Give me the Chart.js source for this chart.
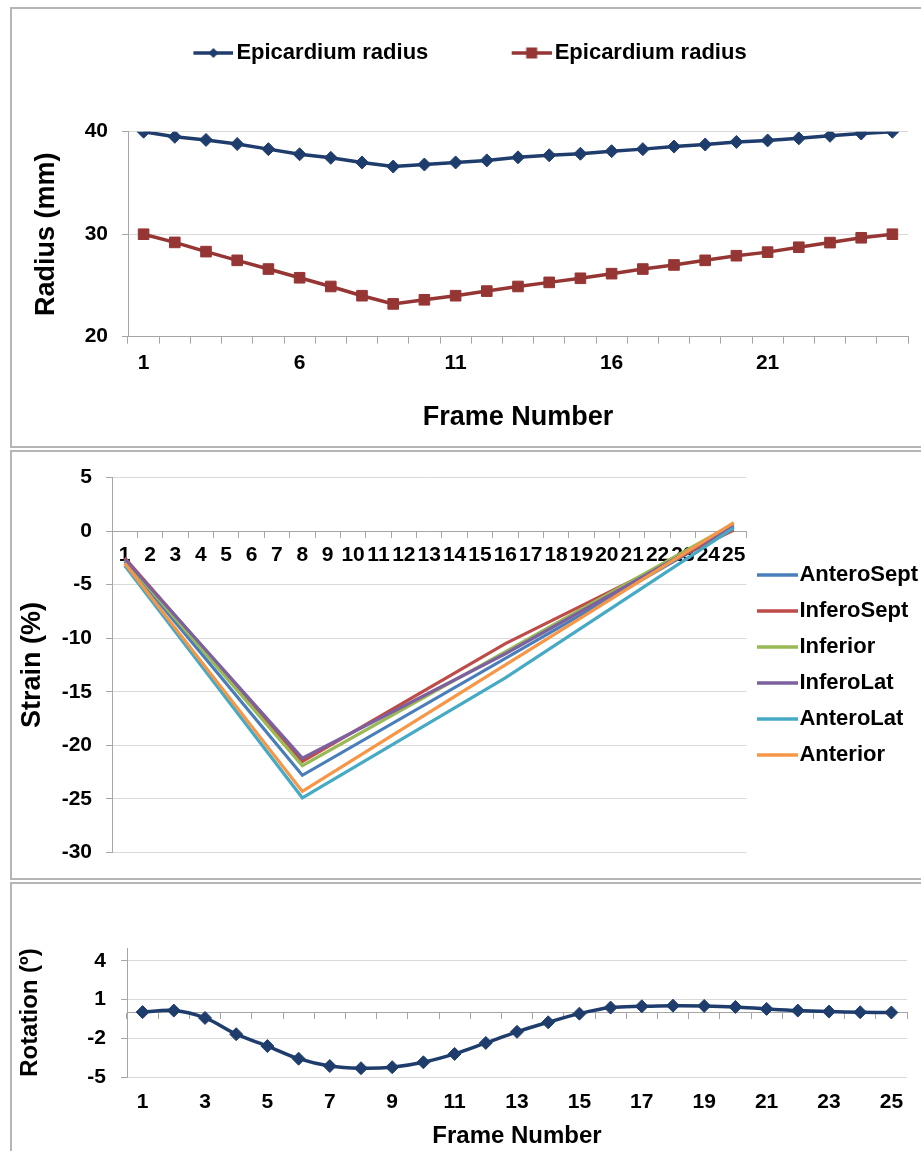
<!DOCTYPE html>
<html>
<head>
<meta charset="utf-8">
<script src="https://cdn.jsdelivr.net/npm/chart.js@4"></script>
<style>
  html, body { margin: 0; padding: 0; background: #fff; overflow: hidden; width: 921px; height: 1151px; }
  .box { position: absolute; border: 2px solid #b5b5b5; box-sizing: border-box; }
  canvas { position: absolute; left: 0; }
</style>
</head>
<body>
<div class="box" style="left:10px;top:7px;width:940px;height:441px"></div>
<div class="box" style="left:10px;top:450px;width:940px;height:430px"></div>
<div class="box" style="left:10px;top:882px;width:940px;height:300px"></div>
<canvas id="radiusChart" width="932" height="446" style="top:0"></canvas>
<canvas id="strainChart" width="928" height="428" style="top:451px"></canvas>
<canvas id="rotationChart" width="932" height="268" style="top:883px"></canvas>
<script>
const frames = ['1', '2', '3', '4', '5', '6', '7', '8', '9', '10', '11', '12', '13',
  '14', '15', '16', '17', '18', '19', '20', '21', '22', '23', '24', '25'];

// top panel: radius
const radiusLegend = ['Epicardium radius', 'Epicardium radius'];
const radiusTickLabels = ['1', '6', '11', '16', '21'];
const radiusYTicks = [20, 30, 40];
const radiusOuter = [40.0, 39.5, 39.2, 38.8, 38.3, 37.8, 37.45, 37.0, 36.6, 36.8, 37.0, 37.2, 37.5,
  37.7, 37.85, 38.1, 38.3, 38.55, 38.75, 39.0, 39.15, 39.35, 39.6, 39.82, 40.0];
const radiusInner = [30.0, 29.2, 28.3, 27.45, 26.6, 25.75, 24.9, 24.0, 23.2, 23.6, 24.0, 24.45, 24.9,
  25.3, 25.7, 26.15, 26.6, 27.0, 27.45, 27.9, 28.25, 28.73, 29.18, 29.65, 30.0];

// middle panel: strain (blank frames are joined by the line)
const strainSegments = ['AnteroSept', 'InferoSept', 'Inferior', 'InferoLat', 'AnteroLat', 'Anterior'];
const strainAnteroSept = [-2.8, null, null, null, null, null, null, -22.8, null, null, null, null, null,
  null, null, null, null, null, null, null, null, null, null, null, 0.4];
const strainInferoSept = [-2.5, null, null, null, null, null, null, -21.5, null, null, null, null, null,
  null, null, -10.5, null, null, null, null, null, null, null, null, 0.1];
const strainInferior = [-2.7, null, null, null, null, null, null, -21.9, null, null, null, null, null,
  null, null, null, null, null, null, null, null, null, null, null, 0.7];
const strainInferoLat = [-2.6, null, null, null, null, null, null, -21.2, null, null, null, null, null,
  null, null, -11.45, null, null, null, null, null, null, null, null, 0.5];
const strainAnteroLat = [-3.2, null, null, null, null, null, null, -24.9, null, null, null, null, null,
  null, null, -13.7, null, null, null, null, null, null, null, null, 0.3];
const strainAnterior = [-3.0, null, null, null, null, null, null, -24.3, null, null, null, null, null,
  null, null, null, null, null, null, null, null, null, null, null, 0.8];

// bottom panel: rotation
const rotationTickLabels = ['1', '3', '5', '7', '9', '11', '13', '15', '17', '19', '21', '23', '25'];
const rotationYTicks = [-5, -2, 1, 4];
const rotationValues = [0.03, 0.15, -0.42, -1.68, -2.6, -3.58, -4.15, -4.32, -4.24, -3.86, -3.21, -2.36, -1.5,
  -0.76, -0.09, 0.38, 0.48, 0.53, 0.51, 0.43, 0.28, 0.15, 0.07, 0.02, 0.0];

const navy = '#1f3d6c';
const darkRed = '#963634';
const strainColors = ['#4a7ebb', '#be4b48', '#98b954', '#7d60a0', '#46aac5', '#f79646'];
const axisGray = '#a6a6a6';
const gridGray = '#d9d9d9';

Chart.defaults.font.family = "'Liberation Sans', Arial, sans-serif";
Chart.defaults.font.weight = 'bold';
Chart.defaults.color = '#000';

const defaultLabels = Chart.defaults.plugins.legend.labels.generateLabels;

// legend swatch: a line (and marker) drawn relative to the legend box start
function legendIcon(color, marker, box, from, to) {
  const half = Math.max(box / 2 - from, to - box / 2);
  const c = document.createElement('canvas');
  c.width = Math.ceil(half * 2);
  c.height = 16;
  const g = c.getContext('2d');
  const x0 = half - box / 2;
  g.strokeStyle = color;
  g.fillStyle = color;
  g.lineWidth = 3.5;
  g.beginPath();
  g.moveTo(x0 + from, 8);
  g.lineTo(x0 + to, 8);
  g.stroke();
  const mx = x0 + (from + to) / 2;
  if (marker === 'diamond') {
    g.beginPath();
    g.moveTo(mx, 3); g.lineTo(mx + 5, 8); g.lineTo(mx, 13); g.lineTo(mx - 5, 8);
    g.closePath();
    g.fill();
  } else if (marker === 'square') {
    g.fillRect(mx - 5.5, 2.5, 11, 11);
  }
  return c;
}

const yTickValues = list => scale => { scale.ticks = list.map(v => ({ value: v })); };

// ---- Radius chart
const radiusIcons = [legendIcon(navy, 'diamond', 32, 0, 40), legendIcon(darkRed, 'square', 32, 0, 40)];
new Chart(document.getElementById('radiusChart'), {
  type: 'line',
  data: {
    labels: frames,
    datasets: [
      { label: radiusLegend[0], data: radiusOuter, borderColor: navy, backgroundColor: navy, xAxisID: 'x',
        borderWidth: 3.5, pointStyle: 'rectRot', pointRadius: 6.5, pointBorderWidth: 1 },
      { label: radiusLegend[1], data: radiusInner, borderColor: darkRed, backgroundColor: darkRed, xAxisID: 'x',
        borderWidth: 3.5, pointStyle: 'rect', pointRadius: 7.5, pointBorderWidth: 1 }
    ]
  },
  options: {
    responsive: false,
    animation: false,
    layout: { padding: { left: 32, right: 24, top: 32, bottom: 0 } },
    plugins: {
      tooltip: { enabled: false },
      legend: {
        position: 'top',
        labels: {
          usePointStyle: true,
          pointStyleWidth: 32,
          padding: 10,
          font: { size: 22, weight: 'bold' },
          generateLabels: chart => defaultLabels(chart).map(item => {
            item.pointStyle = radiusIcons[item.datasetIndex];
            if (item.datasetIndex === 0) item.text = item.text + '            ';
            return item;
          })
        }
      }
    },
    scales: {
      xTop: {
        type: 'category', axis: 'x', position: 'top',
        grid: { display: false, drawTicks: false }, border: { display: false },
        ticks: { display: false },
        afterFit: s => { s.height = 57.7; }
      },
      x: {
        type: 'category', offset: true,
        grid: { drawOnChartArea: false, offset: true, tickLength: 7, tickColor: axisGray },
        border: { color: axisGray },
        ticks: {
          autoSkip: false, maxRotation: 0, minRotation: 0, padding: 6.7, font: { size: 21 },
          callback: function (v) { const l = this.getLabelForValue(v); return radiusTickLabels.includes(l) ? l : ''; }
        },
        title: { display: true, text: 'Frame Number', font: { size: 27, weight: 'bold' }, padding: { top: 0, bottom: 12 } },
        afterFit: s => { s.height = 109.3; }
      },
      y: {
        min: 20, max: 40,
        afterBuildTicks: yTickValues(radiusYTicks),
        grid: { color: gridGray, tickLength: 6, tickColor: axisGray },
        border: { color: axisGray },
        ticks: { padding: 14, font: { size: 21 } },
        title: { display: true, text: 'Radius (mm)', font: { size: 27, weight: 'bold' }, padding: { top: -2, bottom: 0 } },
        afterFit: s => { s.width = 96; }
      }
    }
  }
});

// ---- Strain chart
const strainSeries = [strainAnteroSept, strainInferoSept, strainInferior, strainInferoLat, strainAnteroLat, strainAnterior];
const strainIcons = strainColors.map(c => legendIcon(c, null, 28, -3.5, 37.5));
new Chart(document.getElementById('strainChart'), {
  type: 'line',
  data: {
    labels: frames,
    datasets: strainSeries.map((values, i) => ({
      label: strainSegments[i],
      data: values,
      borderColor: strainColors[i],
      backgroundColor: strainColors[i],
      borderWidth: 3.2,
      pointRadius: 0,
      spanGaps: true,
      order: strainSeries.length - i
    }))
  },
  options: {
    responsive: false,
    animation: false,
    layout: { padding: { left: 0, right: 0, top: 22, bottom: 22 } },
    plugins: {
      tooltip: { enabled: false },
      legend: {
        position: 'right',
        labels: {
          usePointStyle: true,
          pointStyleWidth: 28,
          padding: 14,
          font: { size: 22, weight: 'bold' },
          sort: (a, b) => a.datasetIndex - b.datasetIndex,
          generateLabels: chart => defaultLabels(chart).map(item => {
            item.pointStyle = strainIcons[item.datasetIndex];
            return item;
          })
        }
      }
    },
    scales: {
      x: {
        type: 'category', offset: true, position: { y: 0 },
        grid: { drawOnChartArea: false, offset: true, tickLength: 6, tickColor: axisGray },
        border: { color: axisGray },
        ticks: { autoSkip: false, maxRotation: 0, minRotation: 0, padding: 5.4, font: { size: 21 } }
      },
      y: {
        min: -30, max: 5,
        ticks: { stepSize: 5, padding: 14, font: { size: 21 } },
        grid: { color: gridGray, tickLength: 6, tickColor: axisGray },
        border: { color: axisGray },
        title: { display: true, text: 'Strain (%)', font: { size: 27, weight: 'bold' }, padding: { top: 16, bottom: 0 } },
        afterFit: s => { s.width = 112; }
      }
    }
  }
});

// ---- Rotation chart
new Chart(document.getElementById('rotationChart'), {
  type: 'line',
  data: {
    labels: frames,
    datasets: [{
      label: 'Rotation',
      data: rotationValues,
      borderColor: navy,
      backgroundColor: navy,
      borderWidth: 3.5,
      pointStyle: 'rectRot',
      pointRadius: 6.5,
      pointBorderWidth: 1,
      tension: 0.35,
      xAxisID: 'x'
    }]
  },
  options: {
    responsive: false,
    animation: false,
    layout: { padding: { left: 0, right: 25, top: 65, bottom: 0 } },
    plugins: { legend: { display: false }, tooltip: { enabled: false } },
    scales: {
      x: {
        type: 'category', offset: true, position: { y: 0 },
        grid: { drawOnChartArea: false, offset: true, tickLength: 6, tickColor: axisGray },
        border: { color: axisGray },
        ticks: { display: false }
      },
      x2: {
        type: 'category', axis: 'x', position: 'bottom', offset: true,
        grid: { display: false, drawTicks: false },
        border: { display: false },
        ticks: {
          autoSkip: false, maxRotation: 0, minRotation: 0, padding: 12.4, font: { size: 21 },
          callback: function (v) { const l = this.getLabelForValue(v); return rotationTickLabels.includes(l) ? l : ''; }
        },
        title: { display: true, text: 'Frame Number', font: { size: 24, weight: 'bold' }, padding: { top: 0, bottom: 0 } },
        afterFit: s => { s.height = 74; }
      },
      y: {
        min: -5, max: 5,
        afterBuildTicks: yTickValues(rotationYTicks),
        grid: { color: gridGray, tickLength: 6, tickColor: axisGray },
        border: { color: axisGray },
        ticks: { padding: 15, font: { size: 21 } },
        title: { display: true, text: 'Rotation (º)', font: { size: 24, weight: 'bold' }, padding: { top: 15.6, bottom: 0 } },
        afterFit: s => { s.width = 127; }
      }
    }
  }
});
</script>
</body>
</html>
